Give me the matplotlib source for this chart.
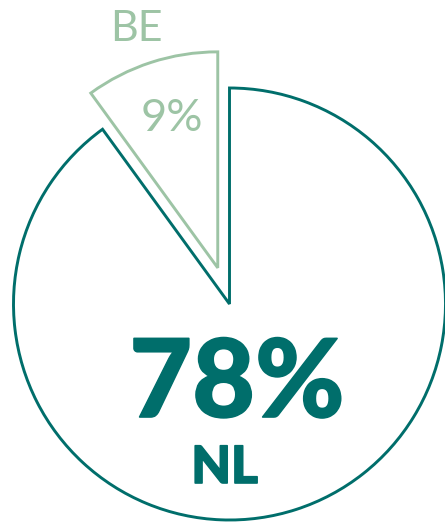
import matplotlib.pyplot as plt
import matplotlib.patheffects as pe

# Data
landen = ['BE', 'NL']
aandelen = [9, 78]          # percentages shown in the labels
taart_delen = [10, 90]      # wedge sizes as drawn
kleuren = ['#9dc4a5', '#006e6b']

fig = plt.figure(figsize=(4.45, 5.23), dpi=100)
ax = fig.add_axes([0, 0, 1, 1])

# explode is in data units here (pixels)
wedges, _ = ax.pie(taart_delen, colors=['none', 'none'], startangle=90,
                   counterclock=True, center=(229.5, 219), radius=216,
                   explode=[38, 0], frame=True)
for w, c in zip(wedges, kleuren):
    w.set_edgecolor(c)
    w.set_linewidth(2.1)
    w.set_joinstyle('miter')
ax.set_xlim(0, 445)
ax.set_ylim(0, 523)
ax.set_aspect('auto')
ax.axis('off')

dik = [pe.withStroke(linewidth=1.2, foreground=kleuren[1])]

# Labels
ax.text(237, 106, f'{aandelen[1]}%', ha='center', va='baseline',
        fontsize=78, fontweight='black', family=['Lato', 'DejaVu Sans'],
        color=kleuren[1], path_effects=dik)
ax.text(224.5, 40, landen[1], ha='center', va='baseline',
        fontsize=37, fontweight='black', family=['Lato', 'DejaVu Sans'],
        color=kleuren[1], path_effects=dik)
ax.text(136, 482, landen[0], ha='center', va='baseline',
        fontsize=31, fontweight='normal', family=['Lato', 'DejaVu Sans'], color=kleuren[0])
ax.text(172, 392, f'{aandelen[0]}%', ha='center', va='baseline',
        fontsize=32.5, fontweight='normal', family=['Lato', 'DejaVu Sans'], color=kleuren[0])

plt.savefig('out.png', dpi=100)
